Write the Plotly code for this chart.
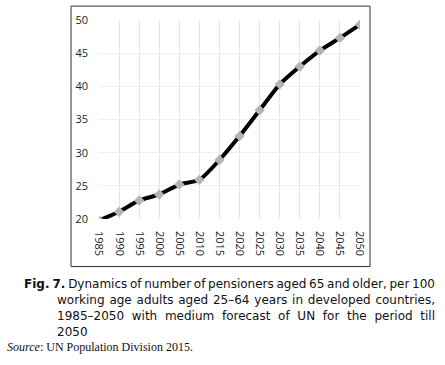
import plotly.graph_objects as go

years = [1985, 1990, 1995, 2000, 2005, 2010, 2015, 2020, 2025, 2030, 2035, 2040, 2045, 2050]
pensioners_per_100 = [19.8, 21.1, 22.8, 23.7, 25.2, 25.9, 28.9, 32.5, 36.4, 40.3, 43.0, 45.4, 47.3, 49.3]
y_ticks = [20, 25, 30, 35, 40, 45, 50]
x_ticks = years

caption_lines = [
    "<b>Fig. 7.</b> Dynamics of number of pensioners aged 65 and older, per 100",
    "working age adults aged 25–64 years in developed countries,",
    "1985–2050 with medium forecast of UN for the period till",
    "2050",
]
source_text = "<i>Source</i>: UN Population Division 2015."

W, H = 445, 365
L, R, T, B = 99, 360, 18, 219


def px(x):
    return (x - L) / (R - L)


def py(y):
    return (B - y) / (B - T)


fig = go.Figure()
fig.add_trace(go.Scatter(
    x=years, y=pensioners_per_100, mode="lines+markers",
    line=dict(color="black", width=4, shape="spline", smoothing=0.6),
    marker=dict(symbol="diamond", size=8, color="#b4b4b4"),
    showlegend=False, cliponaxis=True,
))

fig.update_layout(
    width=W, height=H,
    margin=dict(l=L, r=W - R, t=T, b=H - B),
    paper_bgcolor="white", plot_bgcolor="white",
    font=dict(family="Open Sans", size=11, color="#222"),
    xaxis=dict(range=[1985, 2050], tickvals=x_ticks, ticktext=[str(v) for v in x_ticks],
               tickangle=90, showgrid=True, gridcolor="#e4e4e4", gridwidth=1,
               zeroline=False, showline=False, ticks="", ticklabelstandoff=11,
               tickfont=dict(size=11, color="#222")),
    yaxis=dict(range=[20, 50], tickvals=y_ticks, showgrid=True, gridcolor="#eeeeee",
               gridwidth=1, zeroline=False, showline=False, ticks="", ticklabelstandoff=10,
               tickfont=dict(size=11, color="#222")),
)

fig.add_shape(type="rect", xref="paper", yref="paper",
              x0=px(71), x1=px(370), y0=py(267), y1=py(4),
              line=dict(color="#333", width=1), fillcolor="rgba(0,0,0,0)", layer="below")

starts = [22, 55, 55, 55]
ys = [285, 301, 317, 333]
for txt, sx, yy in zip(caption_lines, starts, ys):
    fig.add_annotation(text=txt, xref="paper", yref="paper", x=px(sx), y=py(yy),
                       xanchor="left", yanchor="middle", align="left", showarrow=False,
                       font=dict(family="DejaVu Sans", size=12, color="#111"))

fig.add_annotation(text=source_text, xref="paper", yref="paper", x=px(5), y=py(348),
                   xanchor="left", yanchor="middle", align="left", showarrow=False,
                   font=dict(family="Liberation Serif", size=12, color="#111"))

post = """
document.body.style.margin = '0px';
var gd = document.getElementById('{plot_id}');
function justify() {
  var texts = gd.querySelectorAll('g.annotation text.annotation-text');
  var targets = [433 - 22, 433 - 55, 433 - 55];
  for (var i = 0; i < targets.length && i < texts.length; i++) {
    var t = texts[i];
    t.style.wordSpacing = '0px';
    var w = t.getComputedTextLength();
    var n = (t.textContent.match(/ /g) || []).length;
    if (n > 0) { t.style.wordSpacing = ((targets[i] - w) / n) + 'px'; }
  }
}
justify();
setTimeout(justify, 300);
"""

fig.write_html("out.html", post_script=post, config={"displayModeBar": False})
